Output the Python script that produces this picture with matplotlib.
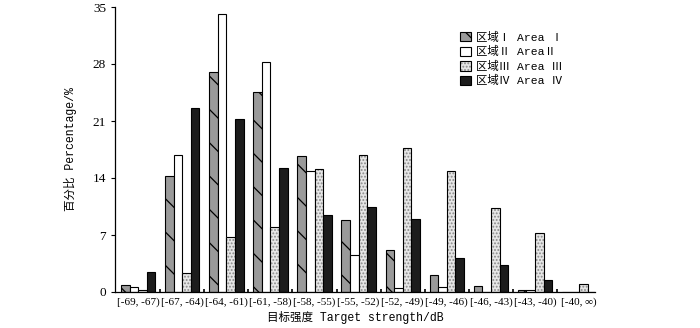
import numpy as np
import matplotlib.pyplot as plt
from matplotlib.patches import Patch

plt.rcParams['hatch.linewidth'] = 0.9

categories = ["[-69, -67)", "[-67, -64)", "[-64, -61)", "[-61, -58)", "[-58, -55)",
              "[-55, -52)", "[-52, -49)", "[-49, -46)", "[-46, -43)", "[-43, -40)", "[-40, ∞)"]
area1 = [0.8, 14.2, 27.0, 24.6, 16.7, 8.9, 5.2, 2.1, 0.7, 0.2, 0.0]
area2 = [0.6, 16.8, 34.2, 28.3, 14.9, 4.6, 0.5, 0.6, 0.0, 0.2, 0.0]
area3 = [0.2, 2.35, 6.7, 8.0, 15.1, 16.8, 17.7, 14.9, 10.3, 7.3, 1.0]
area4 = [2.4, 22.6, 21.3, 15.2, 9.4, 10.4, 9.0, 4.2, 3.3, 1.5, 0.0]
labels = ["区域Ⅰ Area Ⅰ", "区域Ⅱ AreaⅡ", "区域Ⅲ Area Ⅲ", "区域Ⅳ Area Ⅳ"]

mono = ['Liberation Mono', 'Noto Sans CJK SC']
serif = ['Liberation Serif', 'DejaVu Serif']

fig = plt.figure(figsize=(7, 3.28), dpi=100)
ax = fig.add_axes([115/700, 1 - 292/328, 480/700, 285/328])

x = np.arange(len(categories))
w = 0.195
off = np.array([-1.5, -0.5, 0.5, 1.5]) * w

ax.bar(x + off[0], area1, w, facecolor='#9a9a9a', edgecolor='black', lw=0.8, hatch='\\')
ax.bar(x + off[1], area2, w, facecolor='white', edgecolor='black', lw=0.8)
ax.bar(x + off[2], area3, w, facecolor='#e6e6e6', edgecolor='#8a8a8a', lw=0, hatch='.....')
ax.bar(x + off[2], area3, w, fill=False, edgecolor='black', lw=0.8)
ax.bar(x + off[3], area4, w, facecolor='#1c1c1c', edgecolor='black', lw=0.8)

h1 = Patch(facecolor='#9a9a9a', edgecolor='black', lw=0.8, hatch='\\\\')
h2 = Patch(facecolor='white', edgecolor='black', lw=0.8)
h3a = Patch(facecolor='#e6e6e6', edgecolor='#8a8a8a', lw=0, hatch='.....')
h3b = Patch(fill=False, edgecolor='black', lw=0.8)
h4 = Patch(facecolor='#1c1c1c', edgecolor='black', lw=0.8)
leg = ax.legend([h1, h2, (h3a, h3b), h4], labels, loc='upper left',
                bbox_to_anchor=(0.71, 0.93), frameon=False,
                prop={'family': mono, 'size': 8.2}, handlelength=0.9, handleheight=0.9,
                handletextpad=0.5, labelspacing=0.3, borderaxespad=0)

ax.set_xlim(-0.525, 10.36)
ax.set_ylim(0, 35)
ax.set_yticks([0, 7, 14, 21, 28, 35])
ax.set_xticks(x)
ax.set_xticklabels(categories, family=serif, fontsize=8)
ax.set_xticks(x[:-1] + 0.5, minor=True)
ax.tick_params(axis='x', which='major', length=0, pad=4)
ax.tick_params(axis='x', which='minor', length=2, direction='in', width=1.2)
ax.tick_params(axis='y', length=3, width=0.8, labelsize=9.5)
for t in ax.get_yticklabels():
    t.set_family(serif)

ax.spines['top'].set_visible(False)
ax.spines['right'].set_visible(False)
ax.spines['left'].set_linewidth(0.9)
ax.spines['bottom'].set_linewidth(0.9)

ax.set_ylabel("百分比 Percentage/%", family=mono, fontsize=8.3, labelpad=11)
ax.set_xlabel("目标强度 Target strength/dB", family=mono, fontsize=8.3, labelpad=3)

fig.savefig("out.png", dpi=100)
